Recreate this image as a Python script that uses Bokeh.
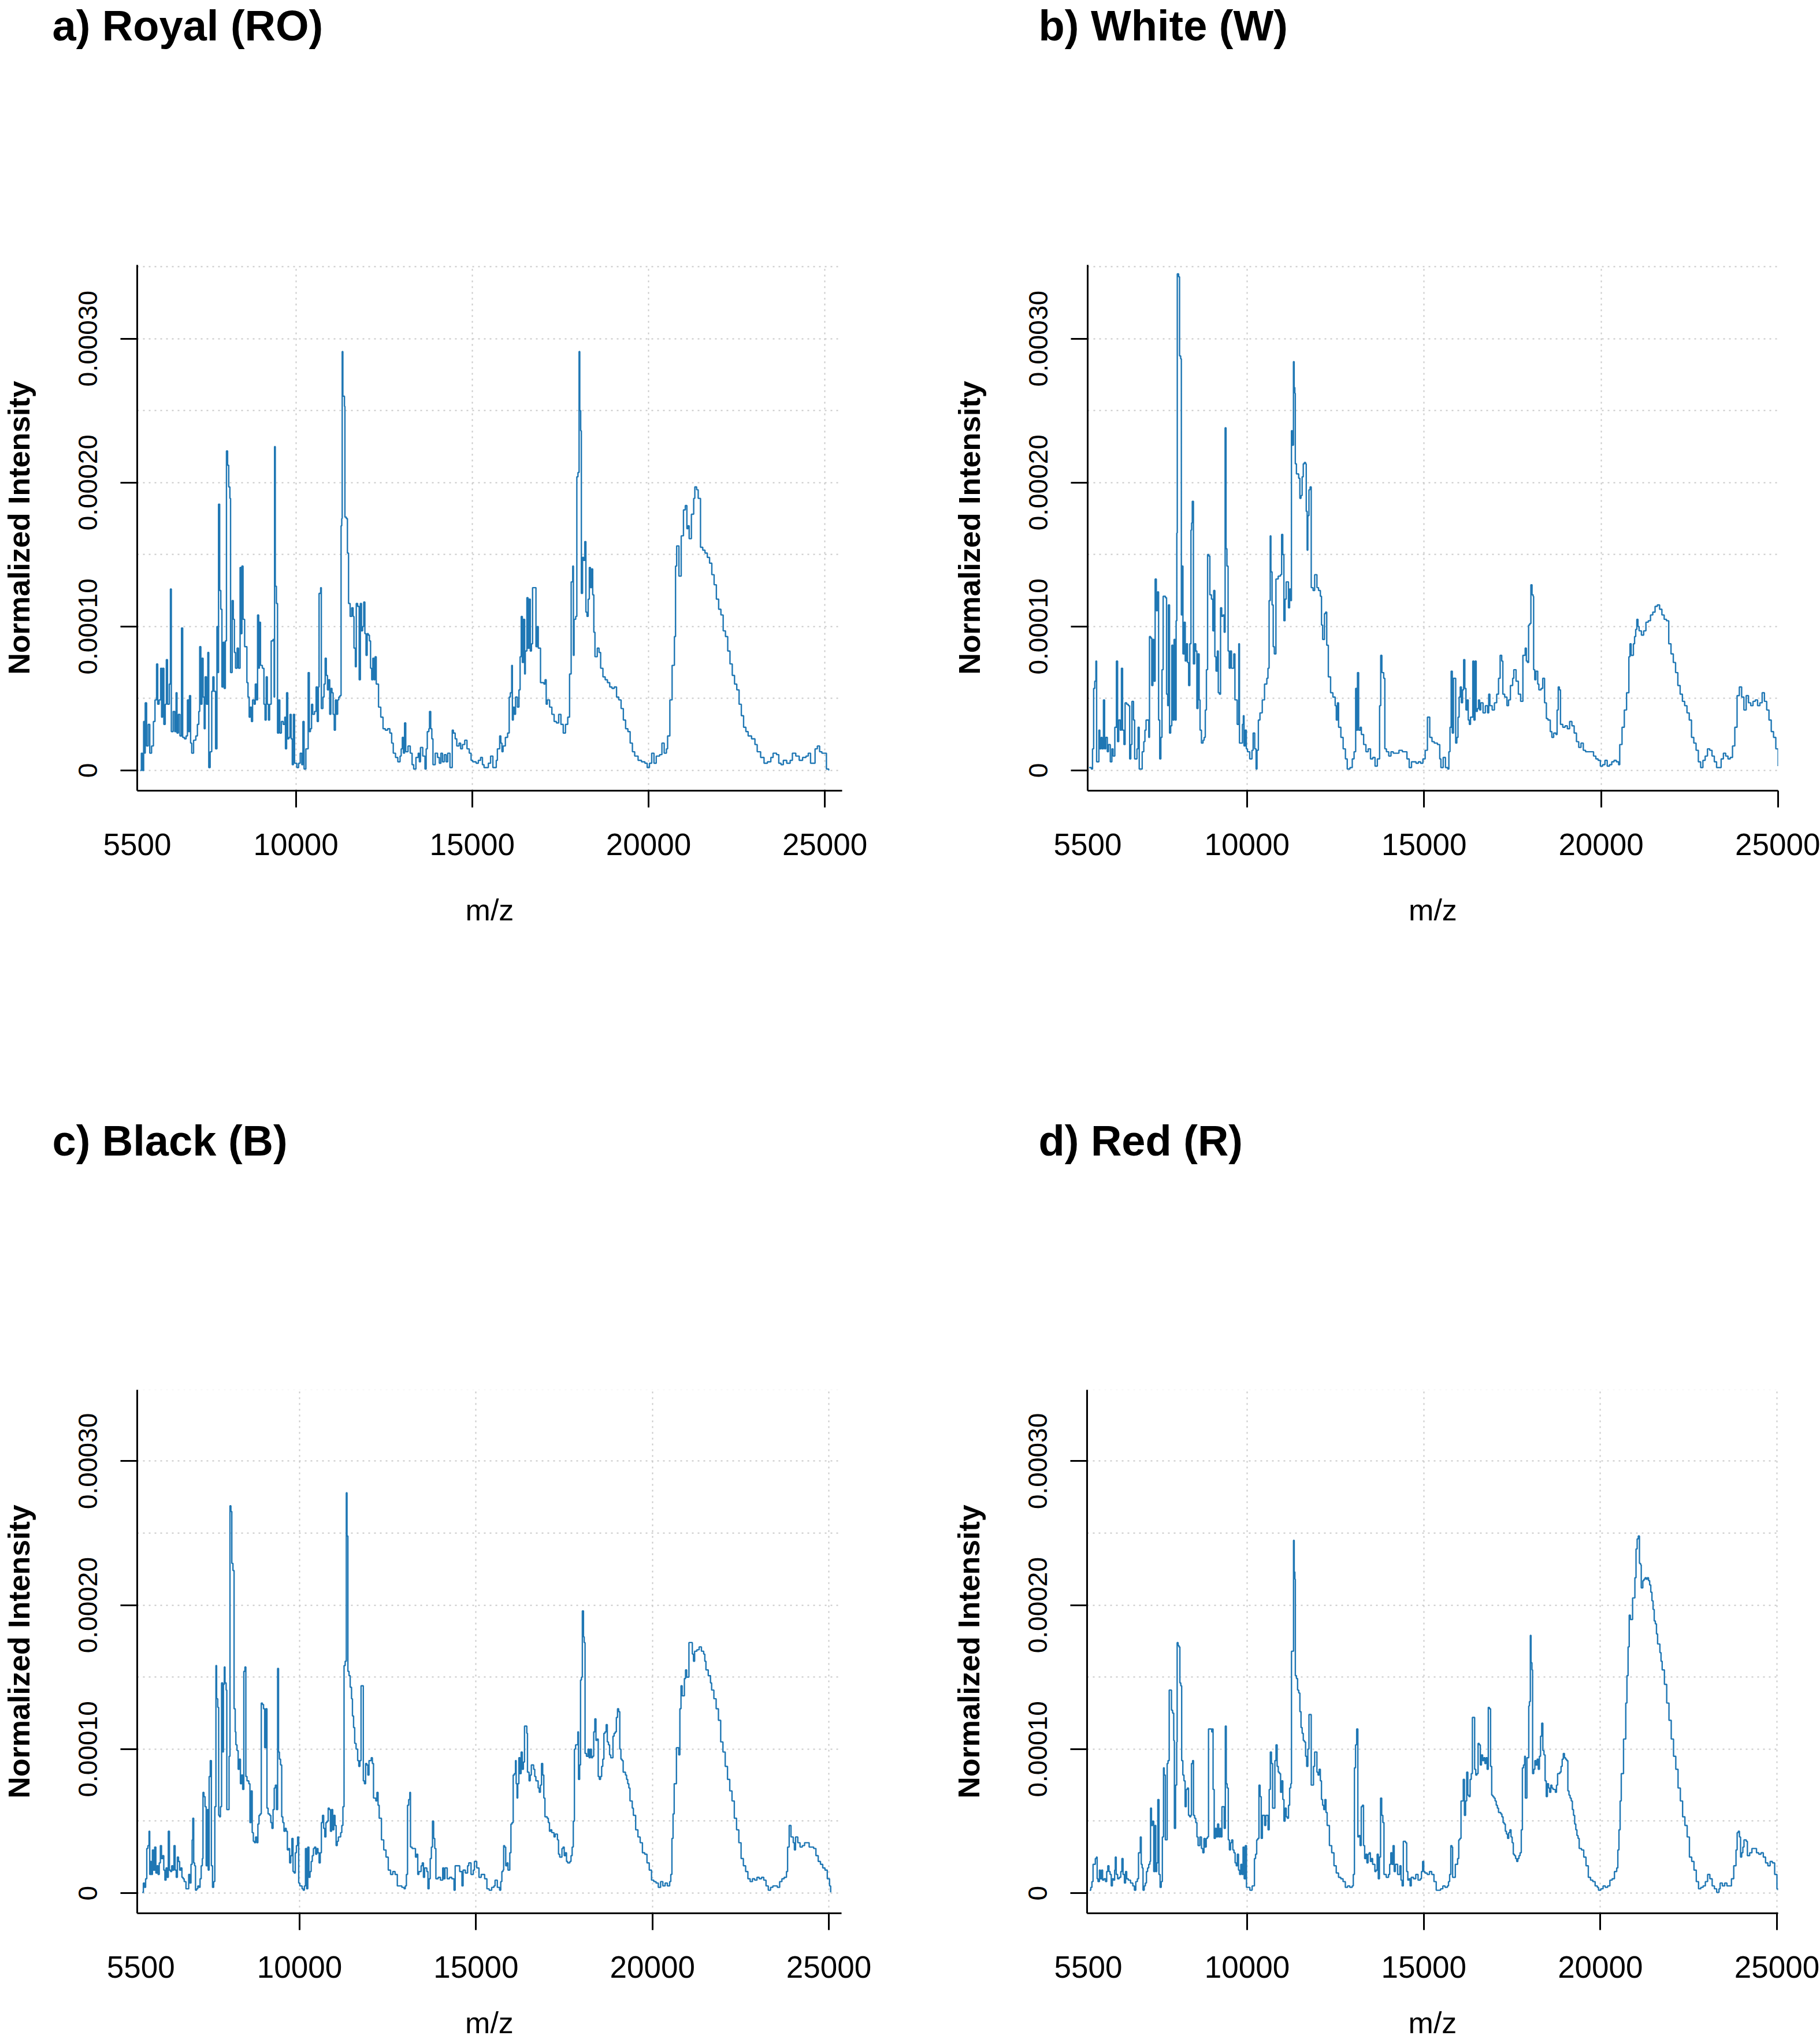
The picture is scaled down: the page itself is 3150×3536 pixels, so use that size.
from bokeh.plotting import figure
from bokeh.layouts import column, row
from bokeh.models import (Range1d, FixedTicker, CustomJSTickFormatter, ColumnDataSource,
                          LinearAxis, Grid)
from bokeh.core.properties import value
from bokeh.embed import file_html
from bokeh.resources import INLINE

# ---------------- data (m/z, normalized intensity in units of 1e-5) ----------------
royal_mz = [
    5586, 5618, 5650, 5682, 5714, 5727, 5766, 5811, 5856, 5907,
    5959, 6004, 6049, 6081, 6120, 6165, 6191, 6216, 6255, 6294,
    6326, 6358, 6409, 6442, 6467, 6519, 6564, 6602, 6628, 6667,
    6712, 6757, 6789, 6840, 6886, 6924, 6956, 6982, 7014, 7046,
    7098, 7162, 7207, 7246, 7272, 7304, 7336, 7368, 7400, 7426,
    7465, 7503, 7529, 7568, 7613, 7645, 7677, 7722, 7761, 7787,
    7806, 7838, 7870, 7902, 7935, 7967, 7999, 8031, 8063, 8095,
    8128, 8147, 8192, 8224, 8256, 8288, 8333, 8372, 8417, 8449,
    8469, 8501, 8546, 8610, 8642, 8675, 8707, 8739, 8771, 8816,
    8848, 8881, 8913, 8945, 8964, 8996, 9048, 9093, 9125, 9157,
    9189, 9222, 9254, 9299, 9350, 9382, 9395, 9415, 9447, 9479,
    9511, 9543, 9588, 9640, 9685, 9704, 9736, 9768, 9801, 9833,
    9865, 9897, 9929, 9962, 10026, 10077, 10122, 10167, 10199, 10232,
    10283, 10328, 10348, 10380, 10412, 10444, 10476, 10528, 10573, 10605,
    10637, 10657, 10702, 10721, 10766, 10798, 10830, 10862, 10895, 10927,
    10959, 10991, 11023, 11055, 11088, 11120, 11152, 11184, 11216, 11249,
    11281, 11300, 11313, 11332, 11358, 11377, 11390, 11429, 11461, 11493,
    11538, 11583, 11622, 11647, 11686, 11712, 11750, 11795, 11828, 11860,
    11892, 11924, 11956, 11989, 12021, 12053, 12085, 12117, 12150, 12182,
    12214, 12246, 12278, 12343, 12407, 12471, 12536, 12600, 12664, 12716,
    12761, 12825, 12890, 12954, 12986, 13018, 13050, 13082, 13115, 13179,
    13243, 13295, 13340, 13404, 13469, 13501, 13533, 13597, 13661, 13694,
    13726, 13771, 13790, 13823, 13855, 13887, 13951, 14016, 14067, 14112,
    14157, 14209, 14260, 14305, 14369, 14434, 14466, 14517, 14562, 14627,
    14672, 14723, 14788, 14852, 14916, 14968, 15013, 15110, 15174, 15238,
    15290, 15335,
    15457, 15521, 15586, 15650, 15682, 15714, 15779, 15811, 15843, 15875,
    15940, 16004, 16049, 16081, 16120, 16139, 16165, 16197, 16229, 16281,
    16326, 16358, 16390, 16422, 16454, 16487, 16506, 16551, 16583, 16615,
    16647, 16680, 16712, 16776, 16808, 16841, 16873, 16937, 17034, 17066,
    17098, 17130, 17195, 17259, 17323, 17388, 17452, 17516, 17581, 17645,
    17709, 17761, 17806, 17851, 17870, 17889, 17935, 17967, 17999, 18031,
    18050, 18076, 18095, 18128, 18160, 18192, 18224, 18256, 18288, 18321,
    18353, 18385, 18417, 18449, 18481, 18546, 18597, 18642, 18707, 18771,
    18835, 18900, 18964, 19028, 19093, 19157, 19222, 19286, 19350, 19415,
    19479, 19543, 19608, 19704, 19801, 19897, 19962, 20026, 20090, 20155,
    20219, 20315, 20380, 20444, 20508, 20541, 20605, 20669, 20734, 20766,
    20798, 20862, 20927, 20991, 21043, 21088, 21120, 21152, 21216, 21281,
    21313, 21364, 21409, 21474, 21538, 21602, 21667, 21731, 21795, 21860,
    21924, 21989, 22053, 22117, 22182, 22246, 22310, 22375, 22439, 22503,
    22568, 22632, 22696, 22761, 22825, 22922, 23018, 23082, 23179, 23276,
    23372, 23469, 23533, 23630, 23694, 23758, 23823, 23919, 24016, 24080,
    24176, 24273, 24369, 24466, 24530, 24595, 24659, 24723, 24788, 24852,
    24916, 24981, 25045, 25110,
]
royal_int = [
    0.0, 1.2, 0.0, 3.4, 1.2, 4.7, 1.7, 3.2, 1.2, 1.7,
    3.4, 4.9, 7.4, 4.6, 4.9, 7.1, 3.7, 7.1, 3.2, 4.6,
    7.7, 4.6, 6.0, 12.6, 2.7, 4.1, 2.7, 5.4, 2.6, 3.9,
    2.4, 9.9, 2.3, 2.2, 2.4, 4.9, 2.7, 5.2, 1.9, 1.2,
    2.1, 2.4, 3.2, 4.1, 8.6, 4.6, 7.8, 5.1, 2.9, 6.5,
    4.6, 8.2, 0.2, 1.3, 5.5, 6.5, 5.5, 1.5, 10.0, 6.8,
    18.5, 12.5, 11.2, 5.8, 8.9, 5.7, 9.0, 22.2, 21.2, 19.7,
    18.9, 6.8, 11.8, 10.5, 8.2, 7.1, 8.5, 7.1, 14.1, 9.5,
    14.2, 10.5, 8.6, 6.1, 5.1, 3.7, 4.4, 3.4, 4.9, 4.6,
    6.0, 4.9, 10.8, 7.1, 10.3, 7.3, 7.1, 4.6, 3.5, 6.5,
    4.6, 3.5, 4.6, 9.0, 9.1, 5.1, 22.5, 12.8, 11.6, 2.6,
    4.9, 2.6, 3.4, 3.2, 3.7, 1.5, 5.4, 2.2, 2.3, 3.9,
    2.2, 0.4, 3.9, 0.5, 0.2, 0.5, 1.2, 0.4, 3.4, 0.1,
    1.5, 1.5, 6.8, 2.7, 2.9, 4.6, 3.9, 4.1, 5.8, 3.4,
    5.8, 12.3, 12.7, 4.3, 5.1, 6.0, 7.8, 6.6, 5.6, 6.3,
    3.9, 5.7, 5.4, 3.9, 2.8, 4.9, 3.9, 4.9, 5.1, 5.2,
    17.0, 17.5, 29.1, 26.0, 26.0, 25.3, 17.6, 17.5, 15.1, 11.6,
    10.7, 11.3, 10.7, 8.5, 7.2, 11.6, 11.4, 6.3, 11.6, 9.7,
    10.0, 11.7, 9.5, 8.0, 9.5, 9.4, 9.0, 7.1, 6.3, 7.8,
    6.3, 7.9, 6.0, 4.4, 3.7, 2.9, 2.8, 2.9, 2.6, 1.9,
    1.2, 0.9, 0.6, 1.0, 1.5, 2.3, 1.2, 3.3, 1.3, 1.7,
    1.2, 0.4, 0.1, 0.9, 1.2, 0.6, 1.6, 1.0, 0.1, 1.5,
    2.7, 2.9, 4.1, 2.9, 2.2, 0.4, 1.2, 0.9, 0.5, 1.2,
    0.6, 1.1, 0.6, 1.2, 0.2, 2.8, 2.6, 2.2, 1.7, 1.9,
    1.5, 1.8, 2.1, 1.5, 1.2, 0.7, 0.6, 0.5, 0.7, 0.9,
    0.4, 0.2,
    0.5, 1.0, 0.2, 0.2, 0.7, 1.5, 2.4, 1.9, 1.3, 1.7,
    2.3, 2.6, 5.1, 5.4, 7.3, 3.5, 4.4, 3.9, 5.1, 4.4,
    5.6, 7.9, 10.7, 7.5, 10.5, 6.7, 8.3, 12.0, 8.5, 11.9,
    8.3, 8.8, 12.7, 12.7, 8.6, 10.0, 8.5, 6.1, 6.0, 6.3,
    4.6, 4.9, 4.4, 3.9, 3.4, 3.3, 3.9, 3.2, 2.6, 3.2,
    3.7, 6.7, 13.1, 14.2, 8.0, 10.5, 10.7, 20.4, 20.7, 29.1,
    25.0, 23.6, 12.3, 14.8, 14.6, 15.9, 11.0, 10.7, 11.9, 14.1,
    12.7, 14.0, 12.2, 9.6, 7.9, 8.5, 8.2, 7.1, 6.5, 6.3,
    6.1, 5.8, 5.7, 5.8, 5.1, 4.9, 4.3, 3.5, 2.9, 2.7,
    1.9, 1.3, 1.0, 0.7, 0.6, 0.5, 0.2, 0.5, 1.2, 0.5,
    1.0, 1.1, 1.9, 1.2, 1.5, 2.4, 4.9, 7.3, 9.3, 14.2,
    15.6, 13.5, 16.3, 18.1, 18.4, 16.8, 17.0, 16.1, 17.8, 18.9,
    19.7, 19.5, 18.9, 15.5, 15.3, 15.1, 14.8, 14.4, 13.6, 12.9,
    11.9, 11.2, 10.8, 9.7, 9.3, 8.3, 7.4, 6.6, 6.0, 5.6,
    4.6, 3.8, 3.0, 2.7, 2.4, 2.2, 1.8, 1.3, 0.9, 0.5,
    0.6, 0.9, 1.2, 1.1, 0.5, 0.4, 0.7, 0.5, 0.7, 1.2,
    1.0, 0.7, 0.9, 1.0, 1.2, 0.5, 0.5, 1.5, 1.7, 1.3,
    1.2, 1.2, 0.1, 0.0,
]

white_mz = [
    5540, 5605, 5637, 5669, 5701, 5733, 5753, 5778, 5817, 5843,
    5881, 5907, 5946, 5978, 6010, 6055, 6087, 6139, 6184, 6216,
    6267, 6312, 6345, 6377, 6422, 6454, 6486, 6525, 6557, 6602,
    6647, 6686, 6718, 6750, 6795, 6827, 6859, 6892, 6924, 6956,
    7001, 7040, 7085, 7117, 7149, 7194, 7226, 7246, 7278, 7310,
    7342, 7374, 7406, 7439, 7471, 7503, 7535, 7567, 7599, 7632,
    7696, 7728, 7760, 7780, 7812, 7844, 7876, 7908, 7940, 7973,
    7998, 8018, 8031, 8069, 8095, 8127, 8146, 8166, 8191, 8224,
    8256, 8288, 8320, 8352, 8385, 8417, 8436, 8455, 8487, 8520,
    8552, 8584, 8616, 8648, 8674, 8713, 8758, 8790, 8822, 8854,
    8887, 8919, 8951, 8996, 9034, 9060, 9092, 9125, 9163, 9189,
    9221, 9253, 9285, 9318, 9356, 9382, 9408, 9433, 9466, 9498,
    9530, 9562, 9594, 9627, 9659, 9691, 9723, 9768, 9787, 9820,
    9871, 9897, 9916, 9949, 9981, 10013, 10077, 10141, 10173, 10218,
    10257, 10283, 10321, 10366, 10431, 10495, 10560, 10592, 10624, 10656,
    10675, 10708, 10740, 10772, 10817, 10881, 10946, 10978, 11010, 11042,
    11074, 11107, 11139, 11171, 11203, 11235, 11255, 11280, 11312, 11332,
    11351, 11364, 11396, 11428, 11460, 11493, 11525, 11557, 11589, 11621,
    11654, 11673, 11699, 11718, 11750, 11782, 11814, 11866, 11911, 11975,
    12020, 12072, 12104, 12136, 12188, 12220, 12252, 12297, 12361, 12426,
    12490, 12522, 12555, 12587, 12651, 12715, 12780, 12831, 12908, 12973,
    13024, 13069, 13101, 13121, 13153, 13198, 13230, 13294, 13359, 13423,
    13488, 13552, 13616, 13681, 13745, 13777, 13809, 13861, 13893, 13938,
    14003, 14067, 14131, 14195, 14292, 14388, 14453, 14517, 14581, 14646,
    14710, 14774, 14839, 14903, 14968, 15032, 15096, 15161, 15225, 15289,
    15379, 15444, 15476, 15540, 15605, 15669, 15701, 15733, 15766, 15798,
    15830, 15894, 15926, 15959, 15991, 16023, 16055, 16087, 16119, 16152,
    16184, 16216, 16248, 16280, 16312, 16377, 16409, 16441, 16473, 16505,
    16538, 16570, 16602, 16666, 16731, 16795, 16827, 16859, 16924, 16988,
    17052, 17104, 17149, 17194, 17226, 17278, 17342, 17387, 17439, 17503,
    17535, 17599, 17664, 17728, 17792, 17857, 17889, 17921, 17953, 17985,
    18018, 18050, 18082, 18095, 18127, 18159, 18211, 18243, 18307, 18352,
    18404, 18455, 18500, 18565, 18610, 18661, 18726, 18758, 18790, 18822,
    18854, 18919, 18983, 19047, 19112, 19176, 19240, 19305, 19369, 19433,
    19498, 19562, 19626, 19723, 19787, 19852, 19916, 19980, 20045, 20109,
    20173, 20238, 20302, 20366, 20431, 20495, 20527, 20592, 20656, 20720,
    20785, 20817, 20849, 20913, 20946, 20978, 21010, 21042, 21074, 21139,
    21203, 21267, 21332, 21396, 21460, 21525, 21589, 21653, 21718, 21782,
    21847, 21911, 21975, 22040, 22104, 22168, 22233, 22297, 22361, 22426,
    22490, 22554, 22619, 22683, 22747, 22812, 22876, 22940, 23005, 23069,
    23133, 23198, 23262, 23326, 23391, 23455, 23519, 23584, 23648, 23712,
    23777, 23841, 23905, 23970, 24034, 24098, 24163, 24227, 24291, 24356,
    24420, 24485, 24549, 24613, 24678, 24742, 24806, 24871, 24935, 25000,
]
white_int = [
    0.2, 0.1, 1.5, 5.7, 6.2, 7.6, 0.6, 0.6, 2.8, 1.5,
    2.3, 1.5, 4.9, 1.5, 2.3, 1.3, 1.8, 0.6, 1.5, 1.0,
    3.0, 7.6, 2.0, 3.5, 2.8, 7.1, 2.8, 1.8, 4.7, 4.6,
    4.5, 0.8, 1.8, 4.8, 3.5, 0.8, 0.8, 1.5, 3.0, 0.1,
    0.1, 1.3, 2.0, 2.8, 3.5, 3.5, 2.3, 9.3, 9.2, 5.9,
    9.1, 6.2, 13.3, 11.1, 12.4, 3.5, 0.8, 2.3, 7.0, 12.1,
    12.0, 5.3, 4.5, 11.5, 2.6, 3.1, 8.7, 3.5, 9.1, 3.5,
    10.4, 16.5, 34.5, 34.3, 28.8, 28.6, 10.8, 14.2, 8.1, 10.3,
    7.6, 8.8, 7.5, 5.9, 8.8, 16.7, 17.2, 18.7, 7.4, 8.8,
    8.3, 4.3, 8.1, 4.9, 2.8, 1.9, 2.1, 2.3, 4.2, 7.0,
    15.0, 14.9, 12.2, 11.9, 9.7, 12.5, 7.9, 6.9, 8.3, 5.4,
    5.3, 11.3, 10.7, 10.8, 9.6, 23.8, 15.4, 14.2, 8.3, 7.1,
    8.3, 7.1, 7.1, 8.1, 4.9, 4.9, 3.2, 8.8, 1.9, 1.9,
    3.2, 3.8, 1.7, 2.8, 1.5, 1.3, 0.8, 1.4, 2.6, 1.5,
    0.1, 1.4, 3.5, 4.0, 4.9, 6.0, 6.4, 7.1, 11.8, 16.3,
    13.8, 11.5, 8.6, 8.1, 13.3, 13.5, 13.6, 16.4, 15.0, 10.4,
    11.9, 13.1, 13.1, 11.3, 12.6, 11.8, 23.6, 22.6, 28.4, 26.6,
    26.2, 21.3, 20.6, 20.6, 20.3, 18.9, 19.1, 20.4, 21.3, 21.4,
    21.3, 18.0, 15.3, 17.7, 19.5, 19.7, 12.7, 12.5, 13.6, 12.7,
    12.5, 12.1, 10.1, 9.1, 10.9, 11.0, 8.7, 6.5, 5.4, 5.1,
    4.5, 3.5, 4.7, 3.0, 2.3, 1.5, 0.8, 0.1, 0.2, 0.8,
    1.3, 5.7, 2.8, 6.8, 2.8, 3.0, 2.5, 1.8, 1.3, 1.5,
    0.8, 0.9, 0.3, 0.8, 4.5, 8.0, 6.8, 6.4, 1.5, 1.3,
    1.0, 1.3, 1.2, 1.2, 1.4, 1.3, 1.3, 0.8, 0.2, 0.6,
    0.6, 0.5, 0.6, 0.5, 0.8, 1.4, 3.7, 2.3, 2.0, 1.9,
    1.8, 0.8, 0.2, 0.9, 0.2, 0.1, 1.3, 3.0, 6.9, 2.6,
    6.4, 1.9, 2.3, 3.7, 5.1, 5.8, 4.7, 5.6, 7.7, 5.7,
    4.2, 4.9, 3.5, 3.2, 3.7, 7.6, 3.5, 7.6, 4.1, 4.3,
    4.9, 4.2, 4.7, 4.0, 4.5, 4.0, 5.3, 4.5, 4.2, 4.7,
    5.3, 6.4, 8.0, 7.6, 5.3, 5.1, 4.5, 4.9, 5.9, 6.4,
    7.0, 6.2, 5.3, 4.8, 8.0, 8.5, 7.6, 7.5, 10.1, 10.2,
    12.9, 12.2, 12.1, 7.0, 6.3, 6.9, 6.0, 5.6, 5.7, 6.4,
    4.7, 3.6, 3.5, 2.7, 2.3, 2.6, 2.5, 4.2, 5.8, 5.6,
    3.2, 3.0, 3.1, 2.9, 3.4, 3.1, 2.6, 2.0, 1.6, 1.9,
    1.4, 1.3, 1.3, 1.3, 1.0, 0.8, 0.7, 0.3, 0.4, 0.7,
    0.3, 0.4, 0.6, 0.7, 0.6, 0.4, 1.8, 3.0, 4.2, 5.4,
    7.9, 8.8, 8.0, 8.8, 9.3, 9.8, 10.5, 10.0, 9.7, 9.4,
    9.7, 10.3, 10.4, 10.8, 11.0, 11.4, 11.5, 11.2, 10.8, 10.5,
    10.4, 8.8, 8.1, 7.5, 6.8, 5.9, 5.3, 4.8, 4.5, 4.0,
    3.5, 2.3, 1.9, 1.4, 0.6, 0.2, 0.7, 1.0, 1.5, 1.4,
    1.0, 0.6, 0.2, 0.2, 0.8, 1.2, 1.0, 0.8, 0.9, 1.7,
    3.0, 5.2, 5.8, 5.1, 4.2, 5.2, 4.7, 4.5, 4.8, 4.9,
    4.5, 4.7, 5.4, 4.8, 4.2, 3.5, 2.7, 2.3, 1.5, 0.3,
]

black_mz = [
    5540, 5572, 5604, 5636, 5669, 5701, 5733, 5752, 5778, 5797,
    5829, 5861, 5893, 5926, 5958, 5990, 6022, 6054, 6086, 6118,
    6151, 6183, 6215, 6247, 6279, 6311, 6343, 6376, 6408, 6440,
    6472, 6504, 6536, 6568, 6600, 6633, 6665, 6697, 6729, 6780,
    6825, 6857, 6890, 6922, 6954, 6973, 6999, 7025, 7050, 7082,
    7115, 7147, 7179, 7211, 7243, 7262, 7288, 7320, 7352, 7384,
    7410, 7436, 7468, 7500, 7532, 7565, 7597, 7629, 7648, 7680,
    7706, 7731, 7757, 7789, 7822, 7841, 7866, 7886, 7918, 7937,
    7982, 8001, 8027, 8053, 8079, 8111, 8143, 8175, 8194, 8226,
    8259, 8291, 8323, 8355, 8387, 8419, 8451, 8477, 8509, 8561,
    8593, 8625, 8657, 8689, 8721, 8753, 8786, 8818, 8850, 8882,
    8914, 8946, 8978, 9010, 9043, 9075, 9107, 9152, 9184, 9216,
    9248, 9281, 9313, 9345, 9377, 9403, 9428, 9461, 9493, 9525,
    9557, 9589, 9621, 9653, 9685, 9718, 9750, 9782, 9814, 9846,
    9878, 9910, 9943, 9975, 10007, 10071, 10103, 10135, 10167, 10200,
    10232, 10264, 10296, 10328, 10360, 10392, 10424, 10457, 10489, 10521,
    10553, 10585, 10617, 10649, 10682, 10714, 10746, 10778, 10810, 10842,
    10874, 10907, 10939, 10971, 11003, 11035, 11067, 11099, 11131, 11164,
    11196, 11228, 11260, 11292, 11324, 11344, 11369, 11401, 11434, 11472,
    11498, 11530, 11562, 11601, 11646, 11678, 11710, 11742, 11774, 11806,
    11838, 11871, 11903, 11935, 11967, 12031, 12063, 12095, 12160, 12192,
    12224, 12256, 12320, 12385, 12449, 12513, 12578, 12642, 12706, 12770,
    12835, 12899, 12963, 12995, 13027, 13059, 13092, 13124, 13143, 13188,
    13252, 13284, 13317, 13349, 13381, 13445, 13477, 13510, 13542, 13606,
    13638, 13670, 13702, 13735, 13767, 13799, 13831, 13863, 13927, 13992,
    14056, 14088, 14120, 14184, 14249, 14313, 14377, 14409, 14473, 14538,
    14602, 14634, 14698, 14762, 14795, 14859, 14923, 14955, 15020, 15084,
    15148, 15245, 15309, 15373,
    15444, 15508, 15540, 15604, 15669, 15701, 15733, 15765, 15784, 15810,
    15842, 15881, 15906, 15958, 15990, 16022, 16054, 16087, 16119, 16138,
    16163, 16183, 16215, 16247, 16279, 16311, 16343, 16375, 16408, 16440,
    16459, 16504, 16536, 16568, 16600, 16633, 16665, 16697, 16761, 16793,
    16825, 16857, 16890, 16922, 16954, 17018, 17050, 17082, 17115, 17147,
    17211, 17243, 17275, 17308, 17339, 17372, 17436, 17468, 17500, 17532,
    17565, 17597, 17661, 17693, 17725, 17757, 17789, 17822, 17854, 17886,
    17905, 17937, 17963, 17989, 18014, 18034, 18046, 18066, 18091, 18130,
    18175, 18207, 18239, 18271, 18304, 18336, 18368, 18400, 18432, 18464,
    18496, 18529, 18561, 18593, 18625, 18657, 18689, 18721, 18754, 18786,
    18818, 18850, 18882, 18914, 18946, 18978, 19011, 19043, 19075, 19107,
    19139, 19171, 19236, 19268, 19300, 19332, 19364, 19428, 19460, 19525,
    19589, 19653, 19717, 19782, 19846, 19910, 19975, 20039, 20103, 20167,
    20232, 20296, 20360, 20424, 20489, 20521, 20553, 20585, 20617, 20681,
    20746, 20778, 20810, 20842, 20906, 20939, 20971, 21035, 21099, 21131,
    21164, 21196, 21260, 21324, 21389, 21453, 21485, 21517, 21582, 21646,
    21678, 21742, 21806, 21871, 21935, 21999, 22063, 22128, 22192, 22256,
    22321, 22385, 22449, 22513, 22578, 22642, 22706, 22770, 22835, 22899,
    22963, 23027, 23092, 23156, 23220, 23284, 23349, 23413, 23477, 23541,
    23606, 23670, 23734, 23799, 23831, 23876, 23927, 23991, 24024, 24056,
    24088, 24120, 24184, 24249, 24313, 24377, 24442, 24506, 24570, 24634,
    24699, 24763, 24827, 24891, 24956, 25020, 25052,
]
black_int = [
    0.05, 0.7, 0.4, 1.0, 3.1, 3.3, 4.3, 1.3, 2.2, 1.3,
    3.0, 1.6, 3.2, 1.4, 1.9, 1.3, 2.1, 3.3, 2.4, 2.6,
    1.6, 0.9, 1.75, 1.1, 4.3, 1.6, 1.5, 1.9, 1.6, 3.3,
    1.6, 1.1, 2.5, 2.2, 1.6, 1.75, 1.1, 1.0, 0.8, 0.3,
    0.3, 1.3, 0.7, 2.0, 3.7, 5.2, 2.1, 1.9, 0.2, 0.3,
    0.5, 0.4, 1.0, 1.9, 2.4, 7.0, 6.7, 6.0, 1.9, 5.8,
    1.6, 8.1, 9.2, 1.9, 0.4, 0.8, 6.0, 15.8, 13.5, 12.9,
    5.4, 5.3, 6.0, 14.6, 9.8, 14.5, 15.7, 14.6, 14.1, 5.8,
    5.8, 9.5, 26.9, 26.5, 22.9, 22.4, 12.8, 11.2, 10.3, 9.9,
    8.6, 9.3, 7.6, 8.2, 7.2, 15.4, 15.7, 8.1, 7.8, 7.6,
    4.9, 7.1, 4.2, 3.6, 3.5, 3.9, 3.5, 4.8, 5.4, 5.5,
    13.2, 13.1, 12.8, 10.1, 12.8, 5.9, 5.5, 5.4, 4.9, 4.5,
    5.8, 7.3, 7.5, 5.8, 15.6, 9.8, 9.3, 8.9, 5.3, 4.9,
    4.3, 4.5, 4.3, 3.0, 3.1, 2.1, 2.6, 3.8, 1.5, 1.4,
    2.8, 3.3, 3.9, 0.7, 0.5, 0.3, 0.2, 0.5, 3.1, 0.3,
    3.2, 1.1, 1.5, 2.2, 2.6, 3.1, 3.2, 2.7, 3.1, 2.8,
    2.1, 2.8, 4.9, 5.4, 4.5, 3.9, 4.9, 5.0, 5.9, 5.8,
    4.3, 5.8, 4.4, 5.4, 4.7, 3.3, 3.6, 3.9, 3.9, 4.2,
    4.7, 6.0, 15.8, 16.1, 27.8, 24.8, 15.4, 15.1, 14.3, 13.5,
    12.3, 11.5, 10.4, 10.0, 9.2, 8.8, 9.2, 14.4, 14.4, 7.8,
    7.6, 9.0, 8.9, 8.2, 9.2, 9.4, 9.0, 6.6, 6.4, 7.0,
    6.1, 5.2, 3.7, 3.0, 2.5, 1.6, 1.3, 1.5, 1.3, 0.5,
    0.5, 0.4, 0.3, 0.5, 1.3, 6.1, 6.5, 7.0, 3.2, 3.1,
    3.1, 2.5, 2.7, 1.3, 1.5, 1.9, 2.1, 1.1, 1.75, 1.5,
    0.3, 1.0, 2.4, 3.2, 5.0, 3.8, 3.1, 1.0, 1.1, 0.9,
    1.75, 1.0, 1.75, 1.0, 1.1, 1.0, 0.2, 1.9, 1.9, 1.5,
    0.5, 1.6, 1.4, 1.9, 2.1, 1.3, 1.6, 2.2, 1.75, 1.1,
    1.3, 1.0, 0.3, 0.2,
    0.4, 0.5, 0.9, 0.4, 0.2, 0.8, 1.5, 1.6, 3.3, 3.2,
    1.9, 2.1, 1.6, 2.8, 4.8, 4.9, 8.2, 8.3, 9.2, 7.6,
    6.6, 7.6, 9.4, 8.3, 9.8, 8.6, 9.1, 11.6, 11.6, 11.1,
    8.4, 7.8, 8.2, 8.9, 8.9, 8.6, 8.1, 7.8, 7.3, 7.0,
    7.5, 9.0, 8.2, 6.6, 5.3, 5.2, 4.9, 4.3, 4.4, 4.2,
    3.9, 4.1, 4.1, 3.7, 2.7, 2.5, 3.1, 3.2, 2.6, 2.8,
    2.2, 2.1, 2.2, 2.6, 3.2, 5.0, 10.0, 10.3, 10.3, 11.2,
    7.9, 8.9, 14.8, 15.0, 19.6, 19.6, 17.8, 17.4, 9.7, 9.5,
    10.0, 9.4, 10.0, 9.4, 9.5, 11.2, 12.1, 10.6, 10.7, 8.1,
    7.9, 8.1, 8.8, 9.3, 11.1, 11.2, 11.7, 10.5, 10.3, 9.6,
    9.4, 9.4, 10.9, 11.1, 11.2, 12.2, 12.8, 12.6, 10.0, 9.3,
    9.2, 8.4, 8.2, 7.9, 7.6, 7.3, 6.4, 5.9, 5.4, 4.4,
    3.9, 3.5, 2.8, 2.7, 2.1, 1.6, 0.9, 0.8, 0.7, 0.4,
    0.8, 0.5, 0.7, 0.5, 0.8, 1.3, 3.8, 5.5, 7.6, 10.1,
    9.6, 12.8, 14.4, 13.7, 14.9, 15.5, 15.0, 17.4, 17.4, 16.6,
    16.1, 16.8, 16.9, 17.1, 16.8, 16.6, 16.1, 15.5, 15.1, 14.6,
    14.1, 13.5, 12.8, 12.0, 10.5, 9.8, 8.8, 7.9, 7.1, 6.4,
    5.2, 4.4, 3.5, 2.4, 1.9, 1.5, 1.0, 0.8, 1.0, 0.9,
    1.1, 1.0, 1.1, 0.9, 0.5, 0.2, 0.4, 0.5, 0.5, 0.4,
    0.8, 1.0, 1.1, 1.5, 3.2, 4.7, 3.9, 3.5, 3.0, 3.9,
    3.9, 3.5, 3.2, 3.3, 3.5, 3.5, 3.2, 3.2, 3.1, 2.6,
    2.2, 2.0, 1.75, 1.6, 1.0, 0.5, 0.05,
]

red_mz = [
    5540, 5572, 5605, 5637, 5669, 5701, 5733, 5753, 5778, 5817,
    5843, 5881, 5907, 5946, 5991, 6023, 6055, 6087, 6119, 6152,
    6184, 6216, 6248, 6267, 6293, 6332, 6377, 6422, 6454, 6486,
    6525, 6557, 6589, 6634, 6699, 6763, 6808, 6847, 6892, 6924,
    6956, 6975, 7001, 7027, 7052, 7085, 7117, 7149, 7181, 7213,
    7246, 7265, 7291, 7323, 7355, 7387, 7413, 7439, 7471, 7503,
    7535, 7567, 7599, 7632, 7651, 7683, 7709, 7735, 7760, 7793,
    7825, 7857, 7889, 7921, 7940, 7973, 8005, 8018, 8044, 8069,
    8095, 8121, 8146, 8179, 8211, 8243, 8275, 8307, 8340, 8372,
    8404, 8423, 8455, 8481, 8513, 8545, 8578, 8610, 8661, 8706,
    8745, 8777, 8809, 8841, 8874, 8906, 8938, 8970, 8996, 9015,
    9035, 9067, 9099, 9131, 9163, 9195, 9228, 9253, 9286, 9318,
    9350, 9382, 9408, 9433, 9466, 9498, 9530, 9562, 9594, 9627,
    9659, 9691, 9723, 9755, 9787, 9820, 9852, 9884, 9916, 9948,
    9981, 10013, 10077, 10141, 10173, 10206, 10238, 10270, 10302, 10334,
    10366, 10399, 10431, 10463, 10495, 10527, 10560, 10592, 10624, 10656,
    10688, 10720, 10753, 10785, 10817, 10849, 10881, 10914, 10946, 10978,
    11010, 11042, 11074, 11107, 11139, 11171, 11203, 11235, 11255, 11287,
    11313, 11332, 11351, 11364, 11396, 11428, 11460, 11493, 11525, 11557,
    11589, 11621, 11654, 11686, 11718, 11750, 11782, 11814, 11846, 11878,
    11911, 11943, 11975, 12007, 12039, 12072, 12104, 12136, 12168, 12200,
    12232, 12265, 12329, 12394, 12458, 12522, 12587, 12651, 12715, 12780,
    12844, 12908, 12973, 13005, 13037, 13069, 13101, 13134, 13166, 13198,
    13230, 13262, 13295, 13327, 13359, 13391, 13423, 13455, 13488, 13520,
    13552, 13616, 13648, 13681, 13713, 13745, 13777, 13809, 13842, 13874,
    13938, 14003, 14035, 14067, 14099, 14131, 14163, 14195, 14260, 14324,
    14356, 14388, 14421, 14453, 14485, 14517, 14549, 14581, 14614, 14646,
    14710, 14774, 14839, 14903, 14935, 14968, 15000, 15032, 15096, 15161,
    15225, 15289, 15353,
    15412, 15476, 15540, 15605, 15669, 15701, 15733, 15766, 15798, 15817,
    15862, 15894, 15959, 15991, 16023, 16055, 16087, 16119, 16152, 16184,
    16216, 16248, 16280, 16312, 16345, 16377, 16422, 16441, 16473, 16505,
    16538, 16570, 16602, 16634, 16666, 16699, 16731, 16763, 16795, 16827,
    16859, 16892, 16924, 16956, 16988, 17020, 17052, 17085, 17117, 17181,
    17213, 17246, 17278, 17310, 17342, 17374, 17406, 17439, 17471, 17503,
    17535, 17567, 17600, 17632, 17664, 17696, 17728, 17761, 17793, 17825,
    17857, 17876, 17902, 17921, 17953, 17973, 17992, 18018, 18037, 18063,
    18082, 18114, 18146, 18179, 18211, 18243, 18275, 18307, 18340, 18372,
    18404, 18436, 18468, 18500, 18533, 18565, 18597, 18629, 18661, 18693,
    18726, 18758, 18790, 18822, 18854, 18887, 18919, 18951, 18983, 19015,
    19047, 19080, 19112, 19144, 19176, 19208, 19240, 19273, 19305, 19337,
    19369, 19401, 19466, 19530, 19594, 19659, 19723, 19787, 19852, 19916,
    19948, 20013, 20077, 20141, 20206, 20270, 20334, 20399, 20463, 20495,
    20527, 20560, 20592, 20656, 20720, 20753, 20785, 20817, 20849, 20913,
    20946, 20978, 21010, 21042, 21074, 21107, 21139, 21158, 21203, 21235,
    21267, 21300, 21332, 21364, 21396, 21428, 21461, 21493, 21525, 21557,
    21589, 21621, 21686, 21718, 21750, 21814, 21879, 21943, 22007, 22072,
    22136, 22200, 22265, 22329, 22394, 22458, 22522, 22587, 22651, 22716,
    22780, 22844, 22908, 22973, 23037, 23101, 23166, 23230, 23294, 23359,
    23391, 23455, 23520, 23584, 23648, 23712, 23777, 23841, 23873, 23906,
    23938, 23970, 24002, 24035, 24067, 24131, 24163, 24228, 24292, 24356,
    24421, 24485, 24549, 24614, 24678, 24742, 24807, 24871, 24935, 25000,
    25032,
]
red_int = [
    0.2, 0.4, 0.8, 2.0, 2.0, 2.4, 2.5, 1.0, 0.8, 1.6,
    1.0, 1.6, 0.9, 1.0, 0.8, 1.5, 1.9, 1.5, 1.3, 0.5,
    1.0, 0.9, 1.6, 2.5, 1.3, 1.0, 1.1, 1.5, 2.4, 1.3,
    0.7, 1.5, 1.0, 0.9, 0.7, 0.5, 0.2, 0.8, 1.0, 2.8,
    2.8, 3.9, 2.0, 1.75, 0.2, 0.5, 0.7, 1.5, 1.75, 2.0,
    2.2, 5.9, 4.7, 5.0, 1.5, 4.7, 1.5, 2.1, 6.5, 1.3,
    0.4, 0.8, 3.9, 8.7, 8.2, 3.7, 3.7, 9.0, 9.2, 14.1,
    14.1, 12.7, 12.5, 10.6, 4.5, 7.5, 10.5, 17.4, 17.2, 17.1,
    14.6, 14.4, 9.2, 8.2, 7.8, 6.0, 7.2, 7.3, 5.4, 5.3,
    5.4, 9.0, 9.2, 5.4, 5.2, 4.9, 3.9, 3.3, 3.9, 3.1,
    2.8, 3.8, 3.2, 3.8, 3.9, 11.4, 11.4, 11.4, 11.2, 11.4,
    7.2, 3.8, 4.5, 3.9, 4.8, 3.9, 4.5, 3.9, 6.0, 6.0,
    4.5, 11.6, 7.6, 7.3, 3.7, 3.0, 3.5, 3.7, 3.0, 2.8,
    2.1, 1.9, 2.7, 1.6, 1.3, 2.0, 1.3, 3.2, 1.0, 3.3,
    0.4, 0.4, 0.2, 0.5, 0.5, 2.4, 2.7, 3.7, 3.8, 7.5,
    6.7, 3.8, 5.4, 5.4, 4.7, 5.4, 5.4, 4.4, 7.2, 9.8,
    9.0, 5.9, 5.9, 9.2, 10.3, 8.8, 8.4, 8.3, 7.0, 7.8,
    6.5, 5.0, 5.9, 5.3, 5.2, 6.1, 7.3, 7.6, 16.8, 16.8,
    24.5, 22.3, 21.8, 15.1, 14.9, 14.1, 13.9, 12.6, 11.5, 11.1,
    10.6, 10.5, 9.5, 8.8, 10.0, 12.4, 12.4, 7.5, 7.5, 8.8,
    9.8, 9.8, 8.4, 8.2, 8.6, 7.8, 6.5, 6.1, 5.8, 6.5,
    5.6, 4.7, 3.3, 2.8, 1.9, 1.4, 1.1, 1.0, 0.8, 0.4,
    0.5, 0.4, 0.5, 1.3, 8.7, 10.3, 11.4, 3.9, 4.0, 3.3,
    6.0, 6.1, 3.3, 2.4, 2.7, 2.1, 2.7, 2.8, 2.2, 2.4,
    2.0, 1.5, 1.6, 2.7, 1.0, 2.5, 6.6, 5.4, 4.9, 1.3,
    1.1, 1.3, 2.0, 2.8, 2.0, 3.3, 1.5, 2.0, 1.3, 1.9,
    0.9, 0.5, 3.6, 3.6, 3.5, 1.5, 0.9, 1.0, 0.5, 1.1,
    1.0, 1.3, 0.9, 1.0, 1.5, 2.2, 1.5, 1.4, 1.3, 1.5,
    1.3, 0.8, 0.2,
    0.2, 0.3, 0.5, 0.4, 0.5, 0.8, 1.3, 3.3, 3.2, 1.1,
    1.1, 2.0, 2.4, 3.7, 3.8, 6.4, 6.4, 7.9, 5.4, 6.4,
    8.4, 6.8, 6.7, 7.9, 8.3, 12.2, 12.2, 8.6, 8.2, 8.3,
    10.4, 10.3, 8.9, 9.6, 9.2, 9.4, 9.0, 9.4, 8.6, 12.9,
    12.8, 8.8, 6.8, 6.7, 6.6, 6.4, 6.1, 5.9, 5.6, 5.5,
    5.3, 4.9, 4.8, 4.3, 4.1, 3.8, 4.2, 4.4, 3.9, 3.5,
    2.7, 2.6, 2.4, 2.2, 2.4, 2.6, 2.8, 4.4, 8.7, 8.9,
    9.5, 6.6, 6.6, 9.4, 9.4, 13.0, 13.3, 17.9, 16.0, 15.5,
    8.3, 8.6, 9.2, 8.9, 9.3, 8.6, 9.5, 10.9, 11.8, 9.9,
    9.6, 7.8, 6.7, 7.6, 7.3, 7.0, 7.5, 7.3, 7.2, 7.2,
    7.0, 7.5, 8.3, 8.3, 8.4, 8.8, 9.3, 9.7, 9.4, 9.3,
    9.2, 7.1, 6.8, 6.6, 6.4, 5.8, 5.4, 4.8, 4.4, 4.0,
    3.8, 3.1, 3.0, 2.5, 1.9, 1.1, 0.9, 0.8, 0.5, 0.4,
    0.2, 0.3, 0.5, 0.4, 0.5, 0.9, 1.0, 1.5, 1.75, 3.0,
    4.4, 6.4, 8.3, 10.7, 13.2, 15.1, 17.1, 19.3, 19.0, 20.5,
    20.5, 21.9, 23.9, 24.6, 24.8, 22.9, 22.8, 21.2, 21.7, 21.8,
    21.9, 21.8, 21.9, 21.7, 21.4, 20.9, 20.3, 19.7, 18.9, 18.7,
    18.0, 17.3, 16.7, 16.1, 15.5, 14.5, 13.2, 12.0, 10.7, 9.5,
    8.6, 7.3, 6.4, 5.3, 4.7, 3.9, 2.5, 2.2, 1.6, 0.8,
    0.3, 0.4, 0.5, 0.8, 1.3, 1.0, 0.5, 0.3, 0.05, 0.3,
    0.7, 0.5, 0.7, 0.5, 0.5, 1.0, 1.9, 3.0, 4.2, 4.3,
    3.9, 2.5, 2.8, 3.2, 3.7, 3.6, 2.6, 2.8, 3.1, 3.1,
    2.8, 2.7, 2.8, 2.5, 2.1, 1.9, 2.2, 2.1, 1.3, 0.3,
    0.2,
]

TITLES = ["a) Royal (RO)", "b) White (W)", "c) Black (B)", "d) Red (R)"]
X_LABEL_TICKS = [5500, 10000, 15000, 20000, 25000]
X_MARK_TICKS = [10000, 15000, 20000, 25000]
Y_TICKS = [0.0, 0.0001, 0.0002, 0.0003]
Y_GRID = [0.0, 0.00005, 0.0001, 0.00015, 0.0002, 0.00025, 0.0003, 0.00035]
UNIT = 1e-5

FONT = "Liberation Sans"
LINE_COLOR = "#1f77b4"
GRID_COLOR = "#c8c8c8"
W = 1575


def make_title(text, height, x, baseline_from_top):
    t = figure(width=W, height=height, output_backend="svg", toolbar_location=None,
               x_range=Range1d(0, W), y_range=Range1d(0, height),
               x_axis_type=None, y_axis_type=None, title=None,
               min_border=0, min_border_left=0, min_border_right=0,
               min_border_top=0, min_border_bottom=0)
    t.outline_line_color = None
    t.grid.visible = False
    t.text(x=[x], y=[height - baseline_from_top], text=[text],
           text_font=value(FONT), text_font_size=value("74px"),
           text_font_style=value("bold"), text_color="black",
           text_baseline=value("alphabetic"), text_align=value("left"))
    return t


def make_panel(mz, inten, height, xr, yr, borders, xlab_standoff):
    left, right, top, bottom = borders
    p = figure(width=W, height=height, output_backend="svg", toolbar_location=None,
               x_range=Range1d(*xr), y_range=Range1d(*yr), title=None,
               x_axis_type=None,
               min_border_left=left, min_border_right=right,
               min_border_top=top, min_border_bottom=bottom)
    p.outline_line_color = None
    p.background_fill_color = "white"
    p.border_fill_color = "white"

    src = ColumnDataSource(dict(x=mz, y=[v * UNIT for v in inten]))
    p.step("x", "y", source=src, mode="after", line_color=LINE_COLOR, line_width=2.4)

    # x axis: line + tick marks (no labels)
    xa = LinearAxis(ticker=FixedTicker(ticks=X_MARK_TICKS),
                    formatter=CustomJSTickFormatter(code="return '';"))
    xa.major_label_standoff = 0
    xa.major_label_text_font_size = "1px"
    # x axis: labels only (5500 has a label but no tick mark)
    xl = LinearAxis(ticker=FixedTicker(ticks=X_LABEL_TICKS), axis_label="m/z")
    xl.axis_line_color = None
    xl.major_tick_line_color = None
    xl.major_tick_out = 0
    xl.major_tick_in = 0
    xl.minor_tick_out = 0
    xl.minor_tick_in = 0
    xl.major_label_standoff = 45
    xl.major_label_text_font = FONT
    xl.major_label_text_font_size = "53px"
    xl.major_label_text_color = "black"
    xl.axis_label_text_font = FONT
    xl.axis_label_text_font_style = "normal"
    xl.axis_label_text_font_size = "52px"
    xl.axis_label_text_color = "black"
    xl.axis_label_standoff = xlab_standoff
    p.add_layout(xa, "below")
    p.add_layout(xl, "below")

    # grid
    p.add_layout(Grid(dimension=0, ticker=FixedTicker(ticks=X_MARK_TICKS)))
    p.ygrid.ticker = FixedTicker(ticks=Y_GRID)
    for g in p.grid:
        g.grid_line_color = GRID_COLOR
        g.grid_line_dash = "3 7"
        g.grid_line_width = 2

    # y axis
    ya = p.yaxis[0]
    ya.ticker = FixedTicker(ticks=Y_TICKS)
    ya.formatter = CustomJSTickFormatter(code="return tick == 0 ? '0' : tick.toFixed(5);")
    ya.major_label_orientation = "vertical"
    ya.axis_label = "Normalized Intensity"
    ya.axis_label_text_font = FONT
    ya.axis_label_text_font_style = "bold"
    ya.axis_label_text_font_size = "52px"
    ya.axis_label_text_color = "black"
    ya.axis_label_standoff = 72
    ya.major_label_text_font = FONT
    ya.major_label_text_font_size = "46px"
    ya.major_label_text_color = "black"
    ya.major_label_standoff = 40

    for ax in (xa, ya):
        ax.axis_line_color = "black"
        ax.axis_line_width = 3
        ax.major_tick_line_color = "black"
        ax.major_tick_line_width = 3
        ax.major_tick_out = 29
        ax.major_tick_in = 0
        ax.minor_tick_out = 0
        ax.minor_tick_in = 0
        ax.minor_tick_line_color = None
    return p


# row 1: titles (120 px) + panels (1648 px); row 2: titles (300 px) + panels (1468 px)
ta = make_title(TITLES[0], 120, 90, 44)
tb = make_title(TITLES[1], 120, 222, 44)
tc = make_title(TITLES[2], 300, 90, 206)
td = make_title(TITLES[3], 300, 222, 206)

pa = make_panel(royal_mz, royal_int, 1648, (5500, 25490), (-1.405e-5, 35.12e-5),
                (237, 118, 338, 400), 63)
pb = make_panel(white_mz, white_int, 1648, (5500, 25000), (-1.405e-5, 35.12e-5),
                (307, 73, 338, 400), 63)
pc = make_panel(black_mz, black_int, 1468, (5398, 25360), (-1.40e-5, 34.95e-5),
                (237, 119, 337, 225), 46)
pd = make_panel(red_mz, red_int, 1468, (5468, 25033), (-1.40e-5, 34.95e-5),
                (306, 73, 337, 225), 46)

layout = column(row(ta, tb), row(pa, pb), row(tc, td), row(pc, pd))
open("out.html", "w").write(file_html(layout, INLINE))
